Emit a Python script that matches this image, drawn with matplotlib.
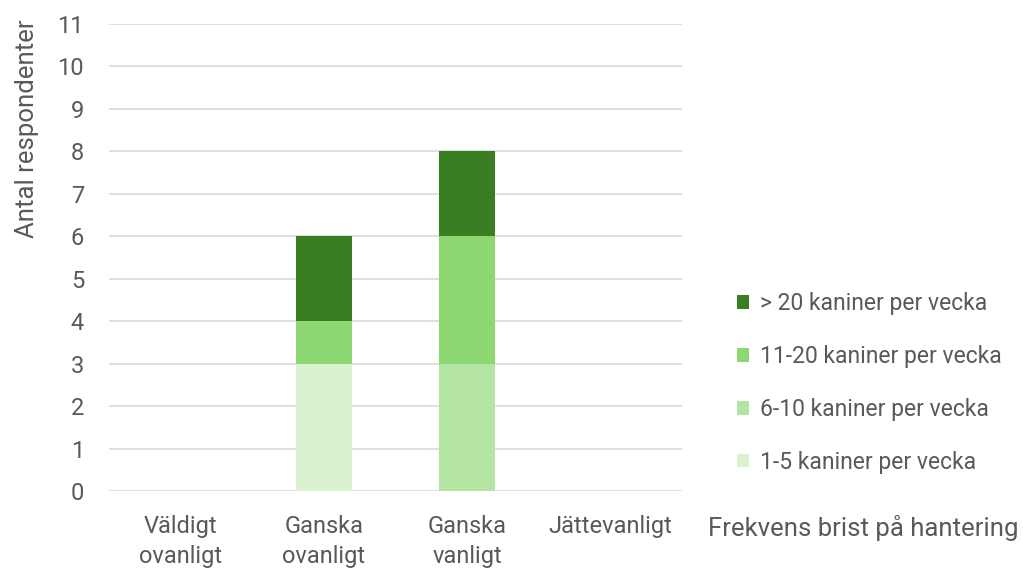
import numpy as np
import matplotlib
matplotlib.use("Agg")
import matplotlib.pyplot as plt

plt.rcParams['font.family'] = ['Roboto', 'DejaVu Sans']

# data
kategorier = ["Väldigt\novanligt", "Ganska\novanligt", "Ganska\nvanligt", "Jättevanligt"]
serier = ["1-5 kaniner per vecka", "6-10 kaniner per vecka",
          "11-20 kaniner per vecka", "> 20 kaniner per vecka"]
v_1_5 = [0, 3, 0, 0]
v_6_10 = [0, 0, 3, 0]
v_11_20 = [0, 1, 3, 0]
v_20 = [0, 2, 2, 0]
farger = ["#DAF2D0", "#B4E5A2", "#8ED873", "#3B7D23"]

grey = "#595959"
fs = 17

fig = plt.figure(figsize=(10.23, 5.69), dpi=100)
ax = fig.add_axes([0.1066, 0.137, 0.560, 0.821])

x = np.arange(len(kategorier))
bottom = np.zeros(len(kategorier))
handles = []
for vals, lab, c in zip([v_1_5, v_6_10, v_11_20, v_20], serier, farger):
    h = ax.bar(x, vals, width=0.39, bottom=bottom, color=c, label=lab, zorder=3)
    handles.append(h)
    bottom += np.array(vals)

ax.set_xlim(-0.5, 3.5)
ax.set_ylim(0, 11)
ax.set_yticks(range(0, 12))
ax.grid(axis='y', color='#D9D9D9', linewidth=1.2, zorder=0)
for s in ax.spines.values():
    s.set_visible(False)
ax.tick_params(axis='both', length=0, colors=grey, labelsize=fs)
ax.tick_params(axis='y', pad=18)
ax.tick_params(axis='x', pad=17)
ax.set_xticks(x)
ax.set_xticklabels(kategorier, fontsize=fs, color=grey, linespacing=1.4)

# axeltitlar
fig.text(27 / 1023, 1 - 19 / 569, "Antal respondenter", rotation=90,
         ha='center', va='top', fontsize=18.5, color=grey)
fig.text(708 / 1023, 1 - 536 / 569, "Frekvens brist på hantering",
         fontsize=18.5, color=grey)

leg = fig.legend(handles[::-1], serier[::-1], loc='center left',
                 bbox_to_anchor=(0.7, 0.327), frameon=False, fontsize=16.5,
                 handlelength=0.55, handleheight=0.55, handletextpad=0.45,
                 labelspacing=1.3, labelcolor=grey)

fig.savefig("out.png", dpi=100)
